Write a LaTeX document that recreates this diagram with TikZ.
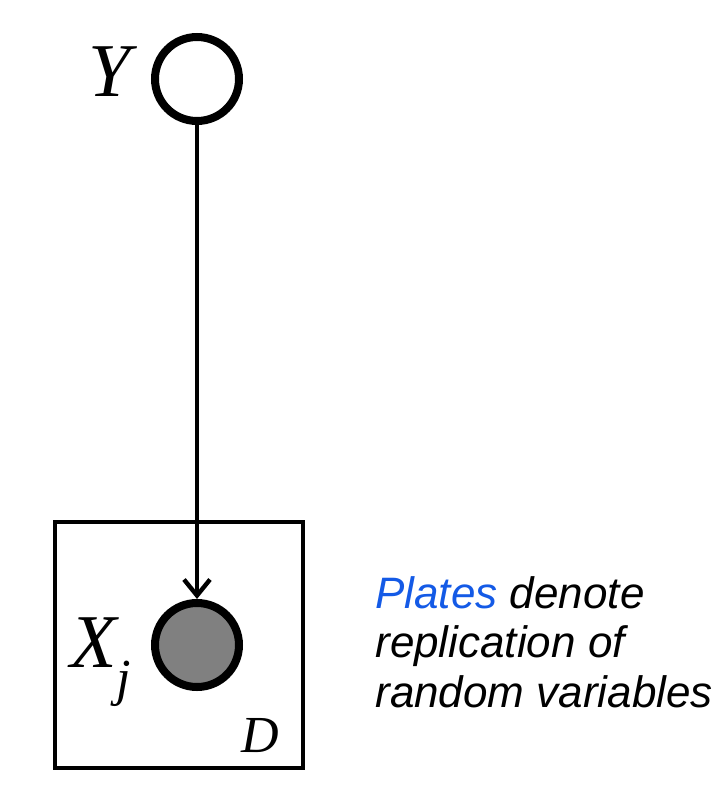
\documentclass[tikz,border=0pt]{standalone}
\usepackage{fontspec}
\setmainfont{Liberation Sans}
\newfontfamily\varfont{Liberation Serif}
\usepackage{xcolor}
\usetikzlibrary{arrows.meta, positioning}
\definecolor{plateblue}{RGB}{20,90,230}

\begin{document}
\begin{tikzpicture}[
  x=0.5pt, y=-0.5pt,
  var/.style={circle, draw=black, line width=4pt, minimum size=42pt,
              inner sep=0pt, fill=white},
  obs/.style={var, fill=black!50},
  lbl/.style={inner sep=0pt, font=\varfont\itshape\fontsize{38}{38}\selectfont},
  plate/.style={rectangle, draw=black, line width=1.8pt, minimum width=124pt,
                minimum height=123pt, inner sep=0pt},
  edge/.style={-{Straight Barb[length=8pt, width=13pt]}, line width=2.2pt}
]
  \useasboundingbox (0,0) rectangle (726,792);

  % plate for the replicated variable
  \node[plate] (plate) at (179,645) {};

  \node[var] (y) at (197,79) {};
  \node[obs] (x) at (197,645) {};

  \node[lbl, anchor=base] (ylbl) at (110,97) {Y};
  \node[lbl, anchor=base west] (xlbl) at (70,667)
    {X\raisebox{-0.38em}{\fontsize{26}{26}\selectfont j}};
  \node[lbl, anchor=base, font=\varfont\itshape\fontsize{26}{26}\selectfont]
    (dlbl) at (260,752) {D};

  \draw[edge] (y) -- (x);

  \node[anchor=base west, align=left, inner sep=0pt,
        font=\itshape\fontsize{22}{24.75}\selectfont] (note) at (375,707)
    {\textcolor{plateblue}{Plates} denote\\replication of\\random variables};
\end{tikzpicture}
\end{document}
